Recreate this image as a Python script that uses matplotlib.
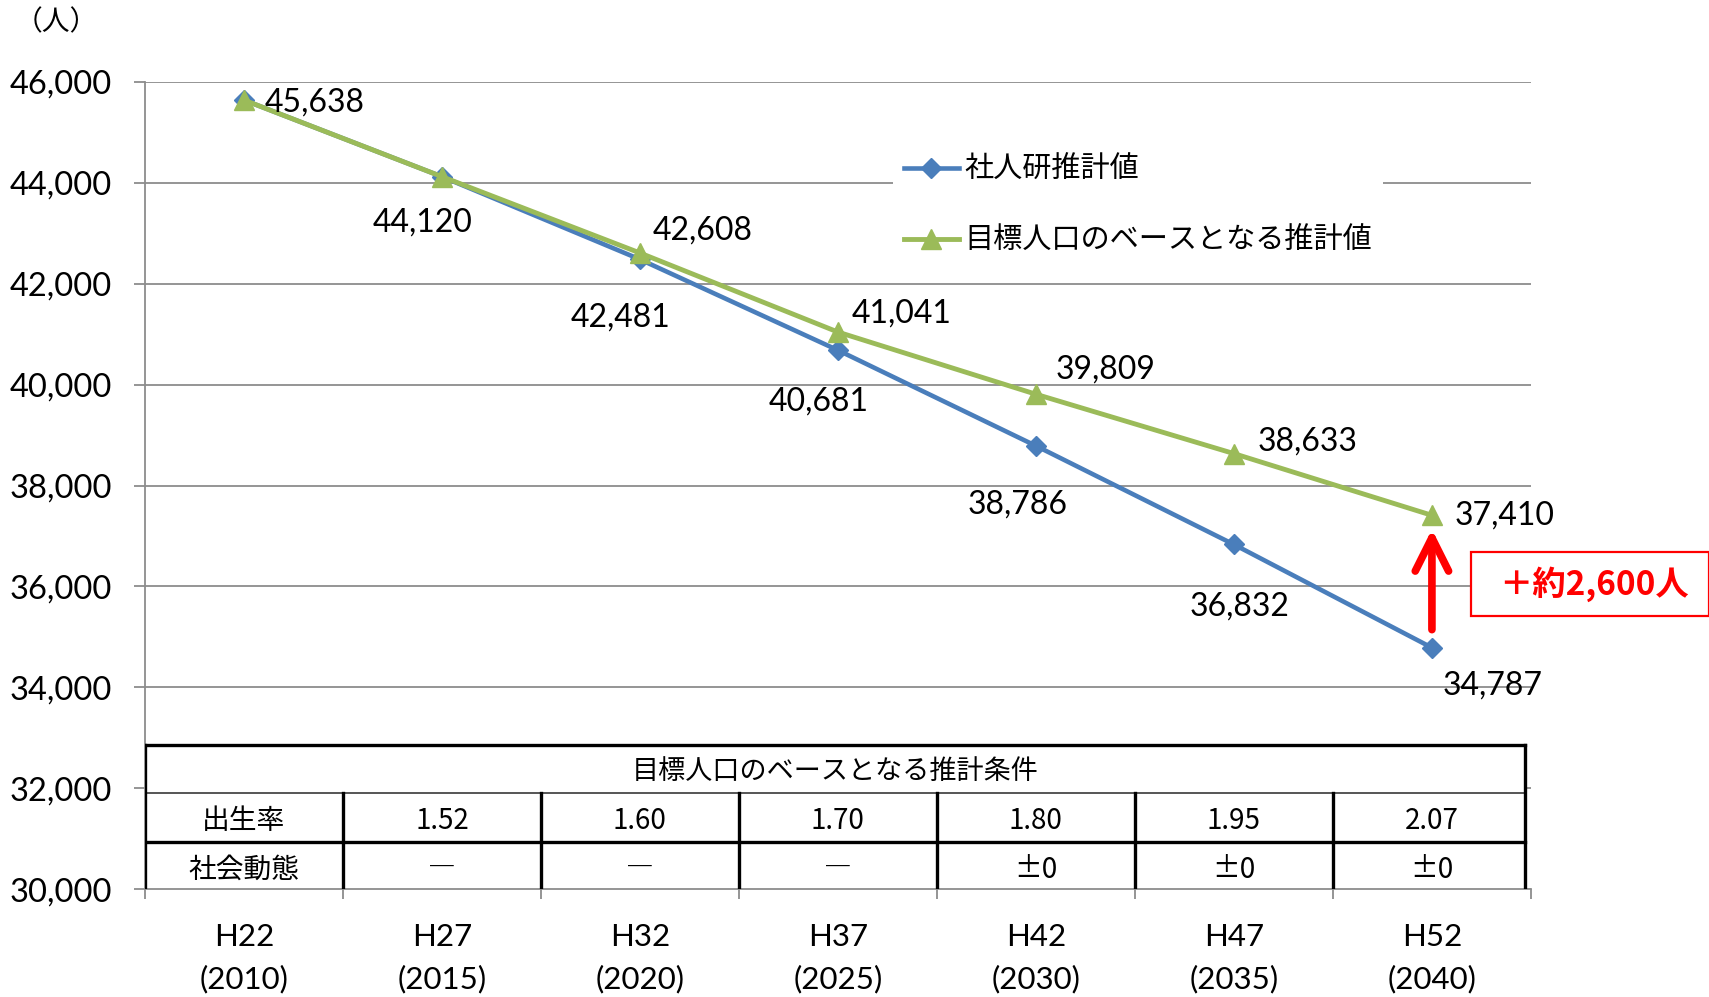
import numpy as np
import matplotlib
matplotlib.use("Agg")
import matplotlib.pyplot as plt
from matplotlib.patches import Rectangle
from matplotlib.ticker import FuncFormatter, FixedLocator

# data
periods = ["H22", "H27", "H32", "H37", "H42", "H47", "H52"]
years = ["2010", "2015", "2020", "2025", "2030", "2035", "2040"]
ipss = [45638, 44120, 42481, 40681, 38786, 36832, 34787]
target = [45638, 44120, 42608, 41041, 39809, 38633, 37410]
series_names = ["社人研推計値", "目標人口のベースとなる推計値"]
table_title = "目標人口のベースとなる推計条件"
row_names = ["出生率", "社会動態"]
birth_rate = ["1.52", "1.60", "1.70", "1.80", "1.95", "2.07"]
migration = ["―", "―", "―", "±0", "±0", "±0"]
gap_label = "＋約2,600人"
unit_label = "（人）"

# label offsets (points) -- layout only
ipss_off = [None, (-14, -33), (-14, -42), (-14, -37), (-13, -42), (4, -45), (44, -27)]
target_off = [(51, -2), None, (45, 16), (46, 13), (50, 18), (53, 9), (52, 0)]

BLUE = "#4A7EBB"
GREEN = "#9BBB59"
GRID = "#8C8C8C"
NUM = ["Lato", "Noto Sans CJK JP", "DejaVu Sans"]
JP = ["Noto Sans CJK JP", "DejaVu Sans"]

plt.rcParams["font.family"] = NUM

fig = plt.figure(figsize=(17.09, 9.97), dpi=100)
ax = fig.add_axes([0.0848, 0.108, 0.811, 0.810])
x = np.arange(len(periods))

ax.plot(x, ipss, color=BLUE, lw=3.3, marker="D", ms=10, zorder=4,
        label=series_names[0])
ax.plot(x, target, color=GREEN, lw=3.5, marker="^", ms=14, zorder=5,
        label=series_names[1])

for i, v in enumerate(ipss):
    if ipss_off[i] is not None:
        ax.annotate(f"{v:,}", (i, v), xytext=ipss_off[i], textcoords="offset points",
                    ha="center", va="center", fontsize=23, zorder=6)
for i, v in enumerate(target):
    if target_off[i] is not None:
        ax.annotate(f"{v:,}", (i, v), xytext=target_off[i], textcoords="offset points",
                    ha="center", va="center", fontsize=23, zorder=6)

ax.set_xlim(-0.5, len(periods) - 0.5)
ax.set_ylim(30000, 46000)
ax.set_yticks(np.arange(30000, 46001, 2000))
ax.yaxis.set_major_formatter(FuncFormatter(lambda v, p: f"{int(v):,}"))
ax.grid(axis="y", color=GRID, lw=1.3, zorder=0)
ax.set_axisbelow(True)
for s in ["top", "right"]:
    ax.spines[s].set_visible(False)
for s in ["left", "bottom"]:
    ax.spines[s].set_color(GRID)
    ax.spines[s].set_linewidth(1.3)
ax.tick_params(axis="y", length=8, width=1.3, color=GRID, pad=16, labelsize=23.5)

ax.set_xticks(x)
ax.set_xticklabels([f"{p}\n({y})" for p, y in zip(periods, years)],
                   fontsize=22.5, linespacing=1.6)
ax.xaxis.set_minor_locator(FixedLocator(np.arange(-0.5, len(periods), 1.0)))
ax.tick_params(axis="x", which="major", length=0, pad=24)
ax.tick_params(axis="x", which="minor", length=7, width=1.3, color=GRID)

# conditions table (x in data, y in axes fraction)
tr = ax.get_xaxis_transform()
t_left, t_right = -0.5, 6.47
rows_y = [-0.003, 0.059, 0.119, 0.179]
ax.add_patch(Rectangle((t_left, rows_y[0]), t_right - t_left, rows_y[3] - rows_y[0],
                       transform=tr, facecolor="white", edgecolor="none", zorder=2))
lw_t = 2.4
for yy in [rows_y[0], rows_y[1], rows_y[3]]:
    ax.plot([t_left, t_right], [yy, yy], transform=tr, color="black", lw=lw_t, zorder=3,
            solid_capstyle="projecting")
ax.plot([t_left, t_right], [rows_y[2], rows_y[2]], transform=tr, color="#555555",
        lw=1.4, zorder=3)
for xx in [t_left, t_right]:
    ax.plot([xx, xx], [rows_y[0], rows_y[3]], transform=tr, color="black", lw=lw_t, zorder=3)
for k in range(len(birth_rate)):
    xx = k + 0.5
    ax.plot([xx, xx], [rows_y[0], rows_y[2]], transform=tr, color="black", lw=lw_t, zorder=3)
ax.text((t_left + t_right) / 2, (rows_y[2] + rows_y[3]) / 2 - 0.003, table_title,
        transform=tr, ha="center", va="center", fontsize=19.5, family=JP, zorder=4)
row_rows = [birth_rate, migration]
row_cy = [(rows_y[1] + rows_y[2]) / 2 - 0.004, (rows_y[0] + rows_y[1]) / 2 - 0.004]
for name, vals, cy in zip(row_names, row_rows, row_cy):
    ax.text(0, cy, name, transform=tr, ha="center", va="center", fontsize=20,
            family=JP, zorder=4)
    for k, v in enumerate(vals):
        ax.text(k + 1, cy, v, transform=tr, ha="center", va="center", fontsize=20,
                family=JP, zorder=4)

# legend
ax.legend(loc="upper left", bbox_to_anchor=(0.540, 0.922), frameon=True,
          facecolor="white", edgecolor="none", framealpha=1, fancybox=False,
          prop={"family": JP, "size": 21}, handlelength=1.9, handletextpad=0.2,
          labelspacing=1.4, borderpad=0.35, borderaxespad=0)

# gap arrow and callout
ax.annotate("", xy=(6, target[-1]), xytext=(6, ipss[-1]),
            arrowprops=dict(arrowstyle="->,head_length=2.4,head_width=1.2",
                            color="red", lw=5.5, shrinkA=13, shrinkB=10,
                            capstyle="round", joinstyle="round"), zorder=7)
fig.patches.append(Rectangle((0.861, 0.382), 0.139, 0.064, transform=fig.transFigure,
                             facecolor="white", edgecolor="red", lw=1.6))
fig.text(0.9327, 0.414, gap_label, ha="center", va="center", fontsize=24,
         fontweight="bold", color="red", family=JP)

fig.text(0.033, 0.978, unit_label, ha="center", va="center", fontsize=20, family=JP)

fig.savefig("out.png", dpi=100)
